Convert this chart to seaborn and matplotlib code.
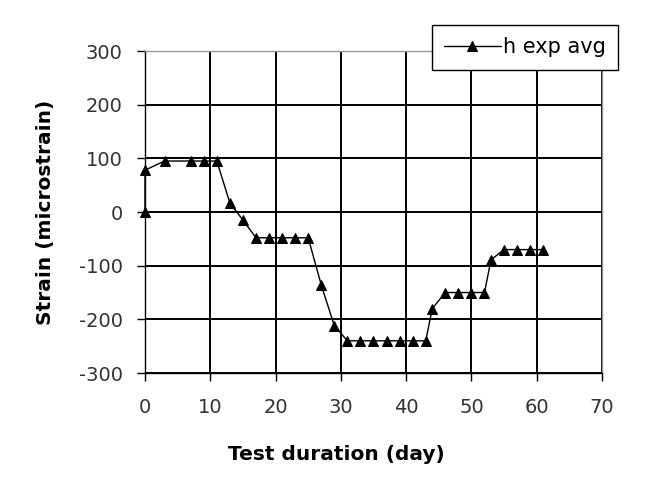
import matplotlib
matplotlib.use("Agg")
import matplotlib.pyplot as plt
import seaborn as sns
import pandas as pd

days = [0, 0, 3, 7, 9, 11, 13, 15, 17, 19, 21, 23, 25, 27, 29, 31, 33, 35, 37, 39,
        41, 43, 44, 46, 48, 50, 52, 53, 55, 57, 59, 61]
strain = [0, 78, 95, 95, 95, 95, 17, -15, -48, -48, -48, -48, -48, -136, -212, -240,
          -240, -240, -240, -240, -240, -240, -180, -150, -150, -150, -150, -89, -70,
          -70, -70, -70]
x_ticks = [0, 10, 20, 30, 40, 50, 60, 70]
y_ticks = [-300, -200, -100, 0, 100, 200, 300]
series_name = "h exp avg"

df = pd.DataFrame({"day": days, "strain": strain, "series": series_name})

sns.set_style("white")
plt.rcParams['font.family'] = ['DejaVu Sans']
plt.rcParams['axes.unicode_minus'] = False

fig = plt.figure(figsize=(6.49, 4.83), dpi=100)
ax = fig.add_axes([0.2234, 0.2277, 0.7042, 0.6667])

sns.lineplot(data=df, x="day", y="strain", hue="series", palette=["black"],
             marker="^", markersize=7.5, markeredgecolor="black", linewidth=1,
             sort=False, ax=ax, estimator=None)
for ln in ax.lines:
    ln.set_clip_on(False)
    ln.set_zorder(5)

ax.set_xlim(0, 70)
ax.set_ylim(-300, 300)
ax.set_xticks(x_ticks)
ax.set_yticks(y_ticks)
ax.grid(True, color="black", linewidth=1.4)
ax.set_axisbelow(True)

for s in ["top", "right"]:
    ax.spines[s].set_color("#999999")
    ax.spines[s].set_linewidth(1)
for s in ["left", "bottom"]:
    ax.spines[s].set_color("black")
    ax.spines[s].set_linewidth(1)

ax.tick_params(axis="both", which="both", direction="out", length=6, width=1,
               color="black", labelsize=14, labelcolor="#333333",
               left=True, bottom=True)
ax.tick_params(axis="y", pad=10)
ax.tick_params(axis="x", pad=12)

ax.set_xlabel("Test duration (day)", fontsize=14.5, fontweight="bold", color="black")
ax.set_ylabel("Strain (microstrain)", fontsize=14.5, fontweight="bold", color="black",
              labelpad=17)
ax.xaxis.set_label_coords(0.418, -0.222)

leg = ax.legend(loc="upper right", bbox_to_anchor=(1.035, 1.081), frameon=True,
                fontsize=15, fancybox=False, edgecolor="black", framealpha=1,
                handlelength=2.7, borderpad=0.6, handletextpad=0.1,
                borderaxespad=0)
leg.get_frame().set_linewidth(1)
for t in leg.get_texts():
    t.set_color("black")

fig.savefig("out.png", dpi=100, facecolor="white")
